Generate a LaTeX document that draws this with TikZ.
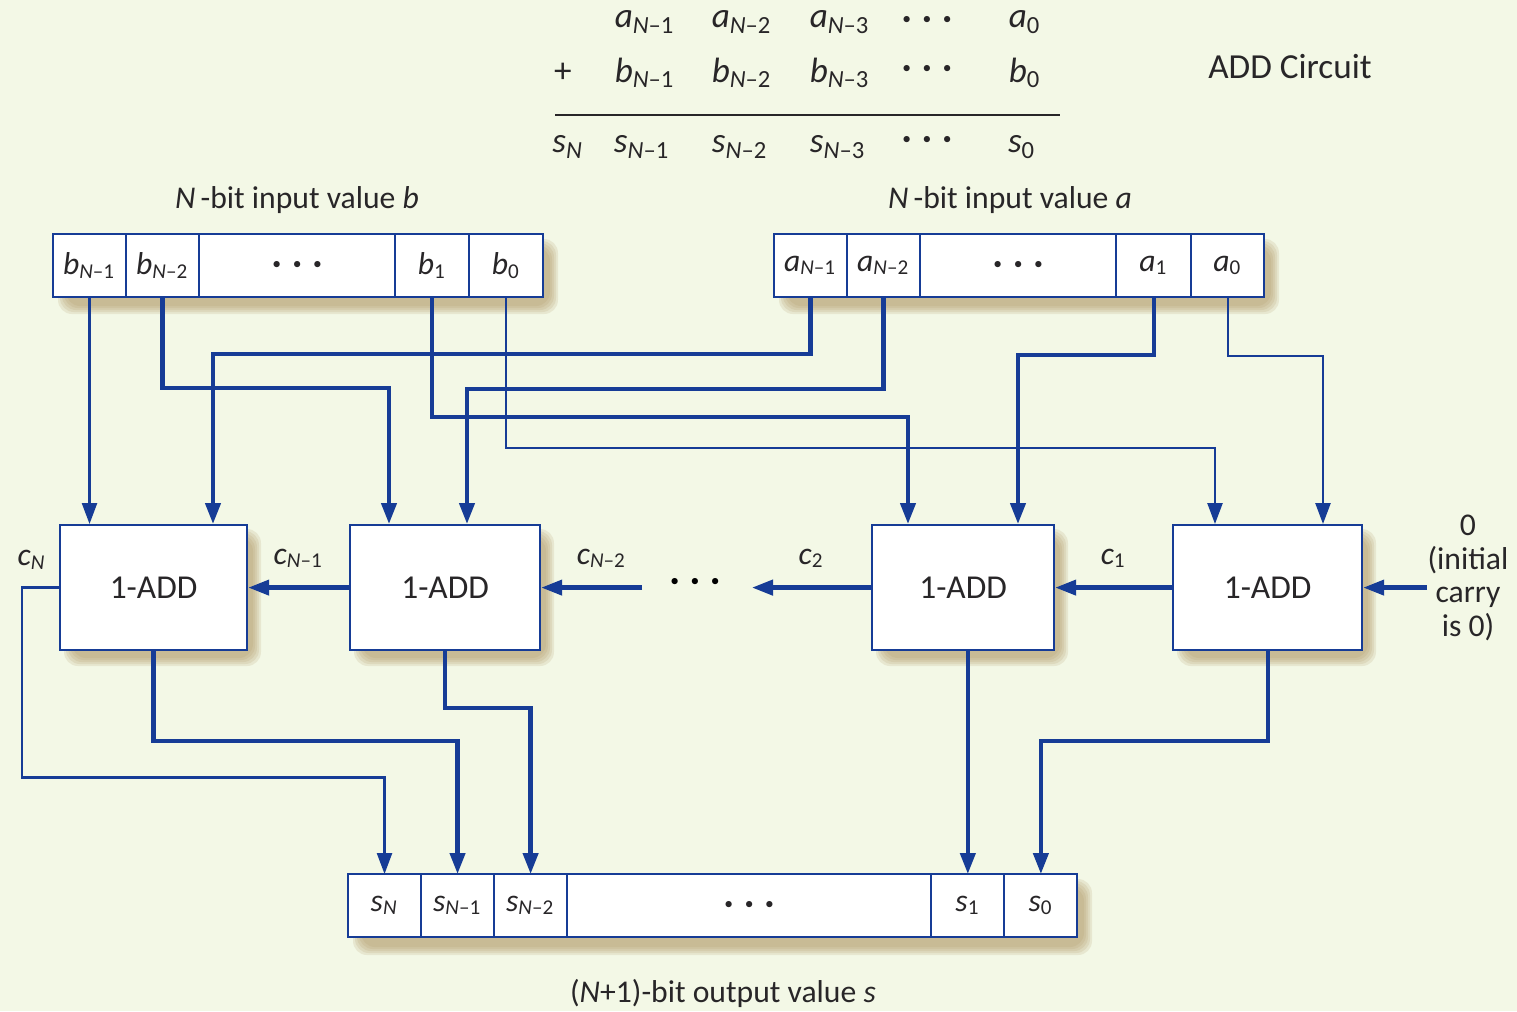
\documentclass[tikz,border=0pt]{standalone}
\usepackage{fontspec}
\setmainfont{Carlito}
\usetikzlibrary{arrows.meta,positioning,calc}

\definecolor{bgcream}{RGB}{243,248,230}
\definecolor{wireblue}{RGB}{22,60,150}
\definecolor{shadowtan}{RGB}{175,150,100}
\definecolor{inkgray}{RGB}{40,38,40}

\newcommand{\bitlbl}[2]{\textit{#1}\textsubscript{#2}}
\newcommand{\threedots}{{\fontsize{5}{5}\selectfont\textbullet\hspace{3.3pt}\textbullet\hspace{3.3pt}\textbullet}}
% soft shadow behind a box, corners given in pixels
\newcommand{\softshadow}[2]{%
  \foreach \sk in {0,...,4}{
    \fill[shadowtan,opacity=0.17,rounded corners=4pt]
      ($(#1)+(5+2*\sk,5+2*\sk)$) rectangle ($(#2)+(15-2*\sk,17-2*\sk)$);
  }}

\begin{document}
\begin{tikzpicture}[
  x=0.01cm, y=-0.01cm,
  font=\fontsize{9}{10.8}\selectfont,
  >={Triangle[length=2.1mm,width=1.5mm]},
  cell/.style={
    draw=wireblue,
    line width=0.6pt,
    fill=white,
    minimum height=0.63cm,
    outer sep=0pt,
    inner sep=0pt,
    text=inkgray
  },
  adder/.style={
    draw=wireblue,
    line width=0.6pt,
    fill=white,
    minimum height=1.25cm,
    font=\fontsize{9.5}{11}\selectfont,
    text=inkgray
  },
  wire/.style={draw=wireblue,line width=1.2pt},
  thinwire/.style={draw=wireblue,line width=0.7pt},
  lbl/.style={text=inkgray,inner sep=1pt},
  eqtxt/.style={text=inkgray,font=\fontsize{10}{12}\selectfont}
]
\useasboundingbox (0,0) rectangle (1517,1011);
\fill[bgcream] (0,0) rectangle (1517,1011);

% the sum written out
\node[eqtxt] (ea1) at (645,22) {\bitlbl{a}{\textit{N}--1}};
\node[eqtxt] (ea2) at (742,22) {\bitlbl{a}{\textit{N}--2}};
\node[eqtxt] (ea3) at (840,22) {\bitlbl{a}{\textit{N}--3}};
\node[eqtxt,inner sep=1pt] (eadots) at (927,20) {\threedots};
\node[eqtxt] (ea0) at (1025,22) {\bitlbl{a}{0}};
\node[eqtxt] (eplus) at (563,73) {+};
\node[eqtxt] (eb1) at (645,73) {\bitlbl{b}{\textit{N}--1}};
\node[eqtxt] (eb2) at (742,73) {\bitlbl{b}{\textit{N}--2}};
\node[eqtxt] (eb3) at (840,73) {\bitlbl{b}{\textit{N}--3}};
\node[eqtxt,inner sep=1pt] (ebdots) at (927,69) {\threedots};
\node[eqtxt] (eb0) at (1025,73) {\bitlbl{b}{0}};
\draw[inkgray,line width=0.8pt] (555,115) -- (1060,115);
\node[eqtxt] (esN) at (568,147) {\bitlbl{s}{\textit{N}}};
\node[eqtxt] (es1) at (642,147) {\bitlbl{s}{\textit{N}--1}};
\node[eqtxt] (es2) at (740,147) {\bitlbl{s}{\textit{N}--2}};
\node[eqtxt] (es3) at (838,147) {\bitlbl{s}{\textit{N}--3}};
\node[eqtxt,inner sep=1pt] (esdots) at (927,140) {\threedots};
\node[eqtxt] (es0) at (1022,147) {\bitlbl{s}{0}};
\node[eqtxt] (title) at (1290,67) {ADD Circuit};

% shadows first
\softshadow{53,234}{543,297}
\softshadow{774,234}{1264,297}
\softshadow{348,874}{1077,938}
\softshadow{59,524}{246,649}
\softshadow{349,524}{539,649}
\softshadow{871,524}{1053,649}
\softshadow{1172,524}{1361,649}

% input b
\node[lbl] (blabel) at (297,200) {\textit{N}\,-bit input value \textit{b}};
\node[cell,anchor=north west,minimum width=0.73cm] (bN1) at (53,234) {\bitlbl{b}{\textit{N}--1}};
\node[cell,right=0pt of bN1,minimum width=0.73cm] (bN2) {\bitlbl{b}{\textit{N}--2}};
\node[cell,right=0pt of bN2,minimum width=1.96cm] (bdots) {\threedots};
\node[cell,right=0pt of bdots,minimum width=0.74cm] (b1) {\bitlbl{b}{1}};
\node[cell,right=0pt of b1,minimum width=0.74cm] (b0) {\bitlbl{b}{0}};

% input a
\node[lbl] (alabel) at (1010,200) {\textit{N}\,-bit input value \textit{a}};
\node[cell,anchor=north west,minimum width=0.73cm] (aN1) at (774,234) {\bitlbl{a}{\textit{N}--1}};
\node[cell,right=0pt of aN1,minimum width=0.73cm] (aN2) {\bitlbl{a}{\textit{N}--2}};
\node[cell,right=0pt of aN2,minimum width=1.96cm] (adots) {\threedots};
\node[cell,right=0pt of adots,minimum width=0.75cm] (a1) {\bitlbl{a}{1}};
\node[cell,right=0pt of a1,minimum width=0.73cm] (a0) {\bitlbl{a}{0}};

% output s
\node[cell,anchor=north west,minimum width=0.73cm] (sN) at (348,874) {\bitlbl{s}{\textit{N}}};
\node[cell,right=0pt of sN,minimum width=0.73cm] (sN1) {\bitlbl{s}{\textit{N}--1}};
\node[cell,right=0pt of sN1,minimum width=0.73cm] (sN2) {\bitlbl{s}{\textit{N}--2}};
\node[cell,right=0pt of sN2,minimum width=3.64cm] (sdots) {\threedots};
\node[cell,right=0pt of sdots,minimum width=0.73cm] (s1) {\bitlbl{s}{1}};
\node[cell,right=0pt of s1,minimum width=0.73cm] (s0) {\bitlbl{s}{0}};
\node[lbl] (slabel) at (723,993) {(\textit{N}+1)-bit output value \textit{s}};

% one-bit adders
\node[adder,anchor=north west,minimum width=1.87cm] (add1) at (59,524) {1-ADD};
\node[adder,anchor=north west,minimum width=1.90cm] (add2) at (349,524) {1-ADD};
\node[adder,anchor=north west,minimum width=1.82cm] (add3) at (871,524) {1-ADD};
\node[adder,anchor=north west,minimum width=1.89cm] (add4) at (1172,524) {1-ADD};

\coordinate (add1a) at ($(add1.north west)+(154,0)$);
\coordinate (add2b) at ($(add2.north west)+(40,0)$);
\coordinate (add2a) at ($(add2.north west)+(118,0)$);
\coordinate (add3b) at ($(add3.north west)+(37,0)$);
\coordinate (add3a) at ($(add3.north west)+(147,0)$);
\coordinate (add4b) at ($(add4.north west)+(43,0)$);
\coordinate (add4a) at ($(add4.north west)+(151,0)$);

% operand wires
\draw[thinwire,->] (bN1.south) -- (bN1.south |- add1.north);
\draw[wire,->] (bN2.south) -- ++(0,91) -| (add2b);
\draw[wire,->] (b1.south) -- ++(0,120) -| (add3b);
\draw[thinwire,->] (b0.south) -- ++(0,151) -| (add4b);
\draw[wire,->] (aN1.south) -- ++(0,57) -| (add1a);
\draw[wire,->] (aN2.south) -- ++(0,92) -| (add2a);
\draw[wire,->] (a1.south) -- ++(0,58) -| (add3a);
\draw[thinwire,->] (a0.south) -- ++(0,59) -| (add4a);

% carry chain
\node[lbl,align=center,font=\fontsize{9}{9.5}\selectfont] (cinlbl) at (1468,578) {0\\(initial\\carry\\is 0)};
\coordinate (cin) at ($(add4.east)+(64,0)$);
\coordinate (cR) at ($(add3.west)+(-119,0)$);
\coordinate (cL) at ($(add2.east)+(101,0)$);
\draw[wire,->] (cin) -- (add4.east);
\draw[wire,->] (add4.west) -- (add3.east) node[lbl,midway,above=4pt] (c1) {\bitlbl{c}{1}};
\draw[wire,->] (add3.west) -- (cR) node[lbl,midway,above=4pt] (c2) {\bitlbl{c}{2}};
\node (cdots) at (695,582) {\threedots};
\draw[wire,->] (cL) -- (add2.east) node[lbl,pos=0.4,above=4pt] (cN2) {\bitlbl{c}{\textit{N}--2}};
\draw[wire,->] (add2.west) -- (add1.east) node[lbl,midway,above=4pt] (cN1) {\bitlbl{c}{\textit{N}--1}};
\node[lbl] (cN) at (32,560) {\bitlbl{c}{\textit{N}}};
\draw[thinwire,->] (add1.west) -- ++(-37,0) -- ++(0,190) -| (sN.north);

% sum wires
\draw[wire,->] (add1.south) -- ++(0,90) -| (sN1.north);
\draw[wire,->] (add2.south) -- ++(0,57) -| (sN2.north);
\draw[wire,->] (s1.north |- add3.south) -- (s1.north);
\draw[wire,->] (add4.south) -- ++(0,90) -| (s0.north);
\end{tikzpicture}
\end{document}
